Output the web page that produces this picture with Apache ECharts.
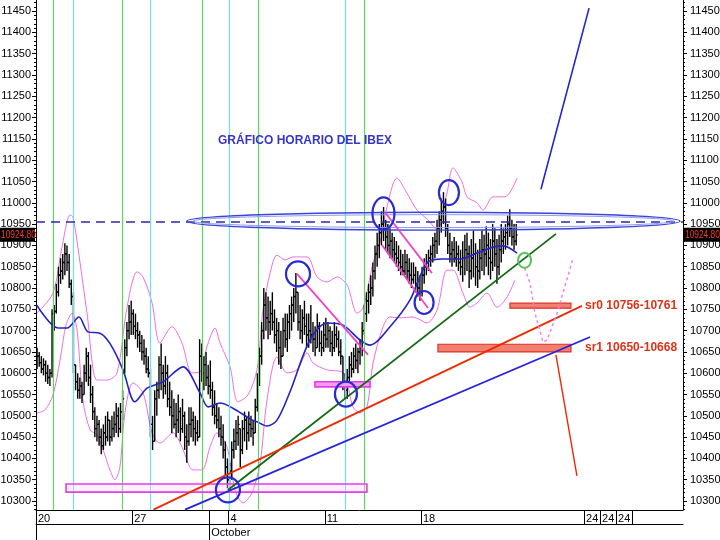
<!DOCTYPE html>
<html><head><meta charset="utf-8">
<script src="https://cdn.jsdelivr.net/npm/echarts@6/dist/echarts.min.js"></script>
<style>html,body{margin:0;padding:0;background:#fff}#c{width:720px;height:540px}</style>
</head><body><div id="c"></div>
<script>
// ---------- DATA ----------
const barsPerDay = 9;
const firstOpen = 10640;
const lows = [
10610,10615,10600,10595,10580,10575,10570,10590,10700,
10740,10780,10810,10820,10830,10840,10800,10760,10600,
10560,10540,10540,10530,10550,10580,10570,10530,10490,
10450,10440,10430,10410,10420,10430,10440,10430,10440,
10450,10460,10450,10460,10490,10600,10640,10680,10690,
10690,10680,10660,10650,10630,10620,10600,10590,10450,
10420,10440,10500,10540,10560,10540,10550,10520,10500,
10460,10470,10450,10460,10440,10460,10420,10390,10430,
10450,10440,10430,10440,10450,10580,10560,10570,10550,
10540,10500,10480,10470,10450,10430,10400,10360,10330,
10320,10350,10400,10420,10430,10380,10410,10440,10420,
10440,10450,10430,10460,10510,10570,10620,10680,10700,
10680,10690,10700,10670,10650,10620,10610,10640,10660,10650,
10680,10700,10720,10740,10700,10680,10670,10690,10660,
10660,10670,10650,10640,10660,10650,10640,10650,10660,
10660,10650,10640,10650,10660,10640,10620,10560,10540,
10540,10570,10590,10600,10610,10600,10620,10640,10690,
10720,10740,10760,10780,10820,10850,10870,10900,10910,
10890,10880,10870,10870,10860,10850,10840,10830,10830,
10830,10820,10810,10800,10810,10790,10780,10770,10780,
10810,10830,10840,10850,10860,10870,10880,10900,10930,
10950,10920,10880,10860,10850,10860,10850,10840,10830,
10815,10830,10840,10800,10820,10825,10805,10800,10820,10840,
10830,10850,10830,10820,10840,10850,10810,10830,10860,
10880,10890,10900,10920,10900,10890,10900];
const highs = [
10660,10650,10640,10635,10630,10620,10610,10750,10760,
10810,10850,10870,10880,10905,10900,10880,10820,10790,
10620,10600,10590,10580,10620,10660,10650,10620,10570,
10520,10500,10490,10470,10480,10500,10510,10490,10500,
10510,10530,10520,10530,10560,10680,10720,10760,10770,
10750,10740,10720,10700,10690,10680,10660,10640,10610,
10500,10560,10580,10640,10670,10620,10640,10620,10580,
10560,10540,10530,10550,10520,10540,10510,10480,10520,
10520,10510,10500,10490,10680,10670,10640,10650,10620,
10630,10580,10560,10530,10520,10500,10480,10440,10400,
10390,10440,10470,10490,10500,10470,10490,10510,10500,
10510,10500,10490,10540,10600,10660,10720,10800,10790,
10780,10770,10790,10750,10730,10720,10700,10730,10740,10740,
10760,10780,10800,10835,10790,10760,10750,10770,10740,
10740,10760,10720,10710,10740,10720,10700,10720,10730,
10720,10710,10700,10720,10710,10700,10680,10640,10600,
10610,10640,10650,10660,10670,10660,10680,10720,10760,
10790,10810,10830,10860,10900,10930,10950,10980,10990,
10960,10950,10940,10930,10920,10910,10900,10890,10880,
10890,10880,10870,10860,10860,10850,10840,10830,10850,
10870,10880,10890,10900,10920,10930,10960,10980,11010,
11025,11010,10950,10930,10910,10920,10910,10900,10890,
10910,10925,10930,10900,10915,10935,10905,10890,10915,10935,
10925,10945,10930,10915,10950,10940,10915,10925,10950,
10940,10950,10970,10985,10960,10950,10950];
const closes = [
10640,10625,10610,10620,10600,10590,10600,10740,10745,
10790,10830,10840,10860,10880,10860,10810,10780,10620,
10580,10560,10570,10550,10600,10640,10590,10550,10510,
10470,10480,10450,10430,10460,10450,10490,10450,10470,
10480,10500,10470,10510,10540,10660,10700,10720,10740,
10710,10700,10690,10670,10650,10640,10610,10600,10480,
10440,10540,10560,10620,10600,10570,10600,10540,10520,
10500,10480,10490,10510,10470,10500,10450,10440,10480,
10490,10470,10460,10450,10640,10600,10620,10590,10570,
10560,10520,10500,10490,10470,10450,10420,10380,10350,
10370,10420,10440,10460,10480,10420,10470,10490,10460,
10480,10470,10460,10520,10580,10640,10700,10760,10730,
10720,10740,10720,10690,10700,10660,10640,10700,10680,10720,
10740,10760,10780,10790,10720,10700,10730,10710,10690,
10700,10690,10680,10660,10710,10670,10660,10690,10680,
10700,10670,10660,10690,10680,10650,10640,10580,10560,
10590,10620,10610,10640,10630,10650,10660,10700,10740,
10770,10790,10800,10840,10880,10900,10930,10950,10940,
10920,10900,10910,10890,10880,10870,10860,10850,10840,
10860,10840,10830,10820,10830,10810,10800,10790,10830,
10850,10860,10870,10880,10900,10910,10940,10960,10980,
10990,10940,10900,10880,10890,10870,10880,10860,10850,
10870,10890,10880,10840,10870,10880,10850,10840,10870,10890,
10880,10900,10870,10860,10910,10880,10850,10890,10910,
10920,10930,10950,10940,10920,10910,10924.8];

// moving average and bands (x in trading days from Sep 20)
const maDays = [0.04,1.14,1.61,2.23,2.70,3.32,3.84,4.52,5.14,5.77,6.60,7.64,8.52,8.94,9.56,10.23,11.12,11.48,12.0,12.52,13.19,14.23,15.12,15.95,16.83,17.35,18.39,19.43,20.31,21.14,22.03,22.91,23.74,24.26,24.99];
const maVals = [10760,10706,10706,10732,10697,10694,10670,10608,10533,10565,10580,10615,10554,10521,10530,10518,10493,10486,10476,10490,10556,10678,10718,10713,10678,10666,10709,10772,10859,10868,10868,10882,10896,10899,10882];
const upDays = [0.05,0.88,1.35,1.77,1.92,2.29,2.65,3.17,3.69,4.21,4.73,5.25,5.56,6.03,6.44,7.06,7.58,8.10,8.52,8.88,9.30,9.56,10.08,10.49,11.01,11.48,11.79,12.16,12.52,12.94,13.35,14.08,14.60,15.12,15.64,16.16,16.68,16.99,17.51,17.87,18.23,18.75,19.27,19.79,20.36,20.83,21.35,21.66,22.13,22.39,22.91,23.22,23.74,24.36,24.99];
const upVals = [10741,10788,10896,10971,10967,10859,10741,10584,10584,10601,10755,10838,10826,10765,10671,10709,10671,10601,10603,10662,10706,10671,10615,10533,10549,10608,10748,10835,10877,10866,10873,10873,10826,10814,10826,10807,10741,10753,10859,10906,10990,11058,11023,10983,10960,10936,11023,11082,11049,11014,11000,10983,11014,11014,11058];
const loDays = [0.05,0.47,0.88,1.25,1.56,1.87,2.13,2.44,2.81,3.17,3.58,3.84,4.10,4.36,4.62,5.04,5.56,6.03,6.44,7.12,7.58,8.16,8.62,9.04,9.40,9.92,10.34,10.75,11.22,11.64,12.0,12.52,13.04,13.56,14.08,14.39,15.12,15.95,16.47,16.83,17.19,17.51,18.03,18.39,18.91,19.58,20.31,20.83,21.35,21.66,22.18,22.55,22.91,23.43,23.95,24.47,24.88];
const loVals = [10507,10514,10549,10631,10713,10741,10702,10537,10467,10455,10408,10373,10350,10380,10507,10577,10554,10460,10436,10460,10427,10373,10373,10427,10460,10427,10326,10296,10319,10389,10537,10638,10601,10608,10648,10624,10608,10601,10521,10507,10521,10624,10709,10732,10730,10732,10718,10748,10842,10842,10788,10755,10765,10788,10755,10779,10819];

// axis labels
const dayLabelPos = [0,5,10,15,20,28.47,29.3,30.13];
const dayLabels = ['20','27','4','11','18','24','24','24'];
const daySeparators = [0,5,9,10,15,20,28.47,29.3,30.13,30.96];
const monthPos = [9];
const monthLabels = ['October'];
const yLabelValues = [10300,10350,10400,10450,10500,10550,10600,10650,10700,10750,10800,10850,10900,10950,11000,11050,11100,11150,11200,11250,11300,11350,11400,11450];

// markers
const greenLines = [0.88,4.49,8.65,11.53,17.04];
const cyanLines = [1.92,5.95,10.03,16.08];
const resistance = 10955;
const lastPrice = 10924.8;
const ellipseBox = [7.84,33.45,10936,10978];
const circleCenters = [[9.97,10326],[13.61,10833],[16.10,10551],[18.05,10975],[20.16,10766],[21.45,11024]];
const greenCircle = [[25.38,10865]];
const greenTrend = [[9.97,10326],[27.01,10927]];
const redTrend = [[6.1,10280],[28.36,10758]];
const blueTrend = [[7.74,10280],[28.78,10685]];
const blueUp = [[26.23,11032],[28.73,11457]];
const redDown = [[27.01,10643],[28.10,10359]];
const pinkProjection = [[25.38,10847],[25.66,10812],[25.92,10741],[26.34,10673],[26.55,10678],[27.07,10741],[27.90,10870]];
const magentaDiag = [[[13.56,10833],[17.25,10643]],[[18.13,10978],[20.57,10835]],[[17.97,10901],[20.36,10753]]];
const magentaRects = [[1.56,17.19,10321,10340],[14.49,17.35,10568,10580]];
const srNames = ['sr0','sr1'];
const srLow = [10756,10650];
const srHigh = [10761,10668];
const srStart = [24.62,20.88];
const srEnd = [27.79,27.79];
const srLabelDay = 28.52;
const titleText = 'GRÁFICO HORARIO DEL IBEX';

// ---------- BUILD ----------
const ohlc = closes.map((c,i)=>{
  const prev = i===0 ? firstOpen : closes[i-1];
  const o = Math.min(highs[i], Math.max(lows[i], prev));
  return [(i+0.5)/barsPerDay, o, highs[i], lows[i], c];
});
const pairs = (xs,vs)=>xs.map((x,i)=>[x,vs[i]]);
const minorTicks = [];
for (let v=10280; v<=11470; v+=10) if (v%50!==0) minorTicks.push(v);

const circleRadii = [[12,12.5],[12,12.5],[11,12.5],[11,16],[9.5,11.5],[10,12.5]];
const F = 'Arial, "Liberation Sans", sans-serif';

function lineSeries(data, color, width, type, z){
  return {type:'line', data, symbol:'none', silent:true, z:z||6,
    lineStyle:{color, width, type:type||'solid'}, animation:false};
}

const chart = echarts.init(document.getElementById('c'), null, {renderer:'canvas'});
const yBase = {type:'value', min:10279, max:11476, splitLine:{show:false}};
chart.setOption({
  animation:false,
  backgroundColor:'#fff',
  title:{text:titleText, left:213, top:130, textStyle:{color:'#3535c8', fontWeight:'bold', fontSize:12, fontFamily:F}},
  grid:{left:36, right:37, top:0, bottom:30, containLabel:false, outerBoundsMode:'none'},
  xAxis:[
    {type:'value', min:0, max:33.61, position:'bottom', splitLine:{show:false},
     axisLine:{show:true, lineStyle:{color:'#000', width:1}},
     axisTick:{show:true, customValues:daySeparators, length:14, lineStyle:{color:'#000', width:1}},
     axisLabel:{customValues:dayLabelPos, formatter:v=>dayLabels[dayLabelPos.indexOf(v)], align:'left', margin:3,
       padding:[0,0,0,2], color:'#000', fontSize:11, fontFamily:F, hideOverlap:false}},
    {type:'value', min:0, max:33.61, position:'bottom', offset:14, splitLine:{show:false},
     axisLine:{show:true, lineStyle:{color:'#000', width:1}},
     axisTick:{show:true, customValues:[0].concat(monthPos), length:16, lineStyle:{color:'#000', width:1}},
     axisLabel:{customValues:monthPos, formatter:v=>monthLabels[monthPos.indexOf(v)], align:'left', margin:3,
       padding:[0,0,0,2], color:'#000', fontSize:11, fontFamily:F, hideOverlap:false}}
  ],
  yAxis:[
    Object.assign({}, yBase, {position:'left',
      axisLine:{show:true, lineStyle:{color:'#000', width:1}},
      axisTick:{show:true, customValues:yLabelValues, length:4, lineStyle:{color:'#000'}},
      axisLabel:{customValues:yLabelValues, formatter:v=>String(v), margin:5, color:'#000', fontSize:11, fontFamily:F, hideOverlap:false}}),
    Object.assign({}, yBase, {position:'left', axisLine:{show:false},
      axisTick:{show:true, customValues:minorTicks, length:2, lineStyle:{color:'#000'}}, axisLabel:{show:false}}),
    Object.assign({}, yBase, {position:'right',
      axisLine:{show:true, lineStyle:{color:'#000', width:1}},
      axisTick:{show:true, customValues:yLabelValues, length:4, lineStyle:{color:'#000'}},
      axisLabel:{customValues:yLabelValues, formatter:v=>String(v), margin:7, color:'#000', fontSize:11, fontFamily:F, hideOverlap:false}}),
    Object.assign({}, yBase, {position:'right', axisLine:{show:false},
      axisTick:{show:true, customValues:minorTicks, length:2, lineStyle:{color:'#000'}}, axisLabel:{show:false}})
  ],
  series:[
    // vertical time markers
    {type:'line', data:[], z:1, silent:true,
     markLine:{silent:true, symbol:['none','none'], label:{show:false}, animation:false,
       data: greenLines.map(d=>({xAxis:d, lineStyle:{color:'#5cd65c', width:1.2, type:'solid'}}))
         .concat(cyanLines.map(d=>({xAxis:d, lineStyle:{color:'#6fe0f0', width:1.2, type:'solid'}})))}},
    // bands
    Object.assign(lineSeries(pairs(upDays,upVals), '#ee6ee6', 1, 'solid', 2), {smooth:0.3}),
    Object.assign(lineSeries(pairs(loDays,loVals), '#ee6ee6', 1, 'solid', 2), {smooth:0.3}),
    // bars
    {type:'custom', z:3, silent:true, data:ohlc, encode:{x:0, y:[1,2,3,4]},
     renderItem:(params, api)=>{
       const x=api.value(0);
       const h=api.coord([x,api.value(2)]), l=api.coord([x,api.value(3)]);
       const o=api.coord([x,api.value(1)]), c=api.coord([x,api.value(4)]);
       const px=h[0];
       const st={stroke:'#000', lineWidth:1.4};
       return {type:'group', children:[
         {type:'line', shape:{x1:px,y1:h[1],x2:px,y2:l[1]}, style:st},
         {type:'line', shape:{x1:px-1.5,y1:o[1],x2:px,y2:o[1]}, style:st},
         {type:'line', shape:{x1:px,y1:c[1],x2:px+1.5,y2:c[1]}, style:st}]};
     }},
    // moving average
    Object.assign(lineSeries(pairs(maDays,maVals), '#2424c0', 1.6, 'solid', 4), {smooth:0.3}),
    // resistance dashed line
    {type:'line', data:[], z:5, silent:true,
     markLine:{silent:true, symbol:['none','none'], animation:false, label:{show:false},
       data:[{yAxis:resistance, lineStyle:{color:'#2a2aa8', width:1.6, type:[9,6]}}]}},
    // last price boxes on both axes
    {type:'custom', z:10, silent:true, clip:false, data:[[0, lastPrice]],
     renderItem:(params, api)=>{
       const p=api.coord([api.value(0), api.value(1)]);
       const cs=params.coordSys;
       const rightX=cs.x+cs.width+1;
       const txt=lastPrice.toFixed(2);
       const box=(x0,w)=>[
         {type:'rect', shape:{x:x0, y:p[1]-7, width:w, height:14}, style:{fill:'#000'}},
         {type:'text', x:x0+1, y:p[1]+0.5, scaleX:0.76, originX:0, originY:0,
          style:{text:txt, fill:'#ff3a1a', font:'11px '+F, verticalAlign:'middle', align:'left'}}];
       return {type:'group', children: box(0, cs.x-1).concat(box(rightX, 720-rightX))};
     }},
    // big ellipse
    {type:'custom', z:6, silent:true, data:[ellipseBox],
     renderItem:(params, api)=>{
       const p1=api.coord([api.value(0), api.value(3)]), p2=api.coord([api.value(1), api.value(2)]);
       const cx=(p1[0]+p2[0])/2, cy=(p1[1]+p2[1])/2, rx=(p2[0]-p1[0])/2, ry=(p2[1]-p1[1])/2;
       return {type:'group', children:[
         {type:'ellipse', shape:{cx,cy,rx,ry}, style:{fill:null, stroke:'#3a44d8', lineWidth:1.4}},
         {type:'ellipse', shape:{cx,cy,rx:rx-6,ry:ry-2.5}, style:{fill:null, stroke:'#8f9cf0', lineWidth:1}}]};
     }},
    // magenta rectangles
    {type:'custom', z:6, silent:true, data:magentaRects,
     renderItem:(params, api)=>{
       const p1=api.coord([api.value(0), api.value(3)]), p2=api.coord([api.value(1), api.value(2)]);
       const first = params.dataIndex===0;
       return {type:'rect', shape:{x:p1[0], y:p1[1], width:p2[0]-p1[0], height:p2[1]-p1[1]},
         style:{fill: first ? 'rgba(255,210,255,0.35)' : '#f39cf0', stroke:'#e63ce6', lineWidth:1.6}};
     }},
    // sr rectangles
    {type:'custom', z:6, silent:true, data:srLow.map((lo,i)=>[srStart[i], srEnd[i], lo, srHigh[i]]),
     renderItem:(params, api)=>{
       const p1=api.coord([api.value(0), api.value(3)]), p2=api.coord([api.value(1), api.value(2)]);
       let h=p2[1]-p1[1], y=p1[1];
       if (h<5){ y-= (5-h)/2; h=5; }
       return {type:'rect', shape:{x:p1[0], y, width:p2[0]-p1[0], height:h},
         style:{fill:'#f08070', stroke:'#e03020', lineWidth:1.2}};
     }},
    // sr labels
    {type:'custom', z:8, silent:true, data:srLow.map((lo,i)=>[srLabelDay, (lo+srHigh[i])/2]),
     renderItem:(params, api)=>{
       const p=api.coord([api.value(0), api.value(1)]);
       const i=params.dataIndex;
       return {type:'text', x:p[0], y:p[1], style:{text: srNames[i]+' '+srLow[i]+'-'+srHigh[i],
         fill:'#dd3318', font:'bold 12px '+F, verticalAlign:'middle', align:'left'}};
     }},
    // trend lines
    lineSeries(greenTrend, '#126a12', 1.8),
    lineSeries(redTrend, '#ee2a00', 1.8),
    lineSeries(blueTrend, '#2424dd', 1.8),
    lineSeries(blueUp, '#2424cc', 1.6),
    lineSeries(redDown, '#ee2a00', 1.4),
    lineSeries(pinkProjection, '#ee7aee', 1.4, [3,3]),
    ...magentaDiag.map(seg=>lineSeries(seg, '#ee44cc', 1.8)),
    // circles
    {type:'custom', z:9, silent:true, data:circleCenters,
     renderItem:(params, api)=>{
       const p=api.coord([api.value(0), api.value(1)]);
       const r=circleRadii[params.dataIndex];
       return {type:'ellipse', shape:{cx:p[0], cy:p[1], rx:r[0], ry:r[1]}, style:{fill:null, stroke:'#2a2ad0', lineWidth:2.2}};
     }},
    {type:'custom', z:9, silent:true, data:greenCircle,
     renderItem:(params, api)=>{
       const p=api.coord([api.value(0), api.value(1)]);
       return {type:'ellipse', shape:{cx:p[0], cy:p[1], rx:6.5, ry:7.5}, style:{fill:null, stroke:'#55c455', lineWidth:2}};
     }}
  ]
});
</script>
</body></html>
